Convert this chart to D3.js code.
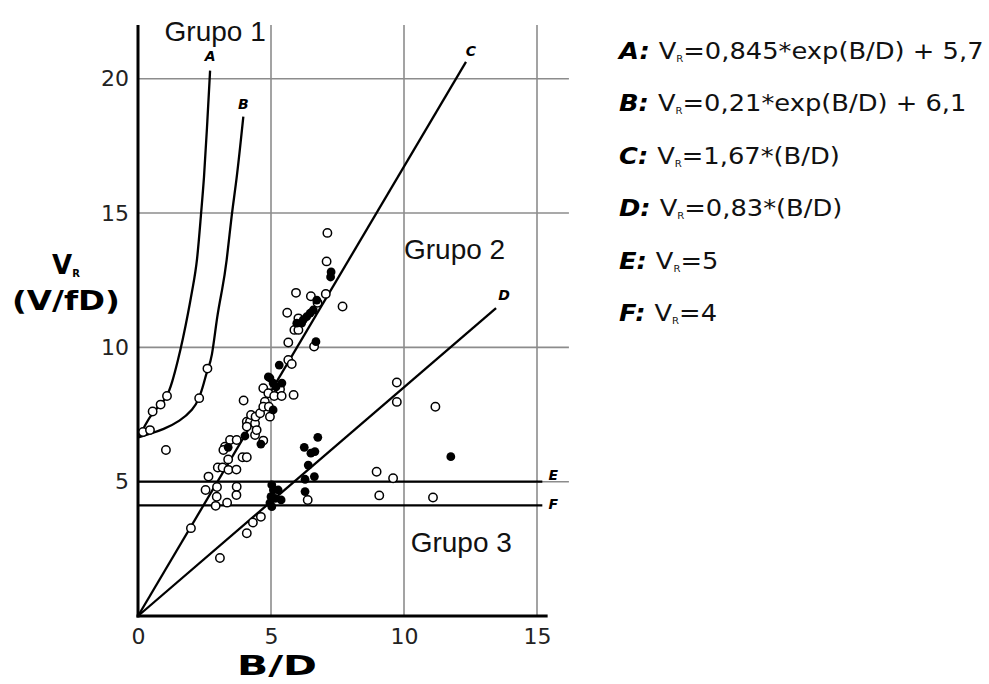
<!DOCTYPE html>
<html><head><meta charset="utf-8">
<script src="https://cdn.jsdelivr.net/npm/d3@7"></script>
<style>body{margin:0;background:#fff}svg{display:block}</style>
</head><body><svg id="c" width="989" height="684"></svg>
<script>
// ---------- data ----------
const xTicks = [0, 5, 10, 15];
const yTicks = [5, 10, 15, 20];
const curveNames = ["A", "B", "C", "D", "E", "F"];
const formulas = ["=0,845*exp(B/D) + 5,7", "=0,21*exp(B/D) + 6,1", "=1,67*(B/D)", "=0,83*(B/D)", "=5", "=4"];
const groupLabels = ["Grupo 1", "Grupo 2", "Grupo 3"];
const groupPos = [[1.0, 21.4], [10.0, 13.3], [10.25, 2.4]];

const curveA = [[0.07,6.70],[0.26,7.10],[0.53,7.55],[0.83,7.85],[1.09,8.15],[1.28,8.67],[1.50,9.50],[1.69,10.32],[1.88,11.25],[2.07,12.30],[2.22,13.12],[2.37,14.99],[2.48,16.22],[2.59,18.09],[2.71,20.30]];
const curveB = [[0,6.65],[0.45,6.78],[0.94,6.94],[1.58,7.25],[2.07,7.69],[2.29,8.06],[2.48,8.67],[2.61,9.19],[2.77,9.50],[2.98,11.24],[3.16,12.11],[3.33,13.11],[3.52,14.98],[3.71,16.22],[3.96,18.59]];
const lineC = [[0,0],[12.33,20.63]];
const lineD = [[0,0],[13.46,11.46]];
const lineE = [[0,5],[15.2,5]];
const lineF = [[0,4.12],[15.2,4.12]];

const openPts = [[0.19,6.85],[0.45,6.92],[0.55,7.61],[0.85,7.87],[1.09,8.19],[1.05,6.18],[2.30,8.11],[2.61,9.21],[3.97,8.02],[5.85,8.23],
[1.99,3.27],[3.08,2.16],[4.09,3.08],[4.32,3.48],[4.62,3.69],[2.65,5.19],[2.54,4.69],[2.97,4.80],[2.96,4.44],[2.92,4.10],
[3.35,4.22],[3.71,4.81],[3.70,4.50],[3.00,5.53],[3.18,5.53],[3.40,5.44],[3.70,5.45],[3.39,5.83],[3.93,5.91],[4.09,5.91],
[3.27,6.30],[3.21,6.18],[3.46,6.55],[3.71,6.55],[4.40,6.74],[4.71,6.53],[4.09,7.23],[4.21,7.23],[4.40,7.17],[4.46,6.92],
[4.09,7.05],[4.25,7.48],[4.42,7.42],[4.59,7.55],[4.96,7.42],[4.77,7.98],[4.71,7.79],[4.92,7.79],[4.71,8.48],[4.90,8.29],
[5.12,8.19],[5.34,8.44],[5.40,8.19],[5.65,9.53],[5.78,9.38],[5.65,10.18],[6.62,10.03],[5.88,10.65],[6.03,10.65],[5.61,11.29],
[6.03,11.08],[5.94,12.03],[6.50,11.90],[7.06,11.99],[7.69,11.52],[6.75,11.66],[7.12,14.26],[7.09,13.20],[6.38,4.32],
[9.73,8.69],[9.73,7.97],[11.18,7.79],[8.97,5.37],[9.59,5.13],[9.07,4.49],[11.09,4.41]];

const filledPts = [[5.31,9.34],[4.90,8.90],[4.96,8.86],[5.08,8.67],[5.41,8.67],[5.19,8.53],[5.08,7.67],[4.02,6.70],[3.39,6.28],[4.62,6.40],
[7.26,12.81],[7.24,12.62],[6.72,11.76],[6.59,11.39],[6.47,11.27],[6.34,11.14],[6.21,11.02],[6.15,10.90],[5.97,10.90],[6.69,10.21],
[5.03,4.88],[5.09,4.69],[5.27,4.69],[5.00,4.44],[5.15,4.38],[5.38,4.32],[5.03,4.07],[4.96,4.21],
[6.76,6.65],[6.25,6.28],[6.65,6.12],[6.50,6.06],[6.40,5.62],[6.28,5.09],[6.63,5.19],[6.28,4.63],[11.76,5.93]];

// ---------- chart ----------
const svg = d3.select("#c");
const x = d3.scaleLinear().domain([0, 15]).range([138, 537]);
const y = d3.scaleLinear().domain([0, 22]).range([616, 25]);
const xMaxGrid = 16.2, xMaxAxis = 15.4;
const sans = "'DejaVu Sans', Verdana, sans-serif";

// grid
const g = svg.append("g");
g.selectAll(".vg").data([5, 10, 15]).join("line")
  .attr("x1", d => x(d)).attr("x2", d => x(d)).attr("y1", y(0)).attr("y2", y(22))
  .attr("stroke", "#8c8c8c").attr("stroke-width", 1.6);
g.selectAll(".hg").data(yTicks).join("line")
  .attr("x1", x(0)).attr("x2", x(xMaxGrid)).attr("y1", d => y(d)).attr("y2", d => y(d))
  .attr("stroke", "#8c8c8c").attr("stroke-width", 1.6);

// axes
const xAxis = d3.axisBottom(x).tickValues(xTicks).tickSize(0).tickPadding(12);
const yAxis = d3.axisLeft(y).tickValues(yTicks).tickSize(0).tickPadding(9);
const gx = svg.append("g").attr("transform", `translate(0,${y(0)})`).call(xAxis);
const gy = svg.append("g").attr("transform", `translate(${x(0)},0)`).call(yAxis);
[gx, gy].forEach(a => {
  a.select(".domain").remove();
  a.selectAll("text").attr("font-family", sans).attr("font-size", 22).attr("fill", "#222");
});
svg.append("line").attr("x1", x(0)).attr("x2", x(0)).attr("y1", y(22)).attr("y2", y(0) + 1.5)
  .attr("stroke", "#000").attr("stroke-width", 3);
svg.append("line").attr("x1", x(0) - 1.5).attr("x2", x(xMaxAxis)).attr("y1", y(0)).attr("y2", y(0))
  .attr("stroke", "#000").attr("stroke-width", 3);

// curves
const line = d3.line().x(d => x(d[0])).y(d => y(d[1]));
const curveLine = d3.line().x(d => x(d[0])).y(d => y(d[1])).curve(d3.curveBasis);
const curves = [curveA, curveB, lineC, lineD, lineE, lineF];
svg.selectAll(".crv").data(curves).join("path")
  .attr("d", (d, i) => i < 2 ? curveLine(d) : line(d))
  .attr("fill", "none").attr("stroke", "#000").attr("stroke-width", 2.3);

// curve letters near line ends
const letterOffsets = [[0, -14], [0, -12], [5, -10], [8, -12], [11, -6], [11, 0]];
svg.selectAll(".lt").data(curves).join("text")
  .attr("x", (d, i) => x(d[d.length - 1][0]) + letterOffsets[i][0])
  .attr("y", (d, i) => y(d[d.length - 1][1]) + letterOffsets[i][1])
  .attr("text-anchor", "middle").attr("dominant-baseline", "middle")
  .attr("font-family", sans).attr("font-weight", "bold").attr("font-style", "italic").attr("font-size", 14)
  .text((d, i) => curveNames[i]);

// points
svg.selectAll(".op").data(openPts).join("circle")
  .attr("cx", d => x(d[0])).attr("cy", d => y(d[1])).attr("r", 4.2)
  .attr("fill", "#fff").attr("stroke", "#000").attr("stroke-width", 1.5);
svg.selectAll(".fp").data(filledPts).join("circle")
  .attr("cx", d => x(d[0])).attr("cy", d => y(d[1])).attr("r", 4.4)
  .attr("fill", "#000");

// group labels
svg.selectAll(".grp").data(groupLabels).join("text")
  .attr("x", (d, i) => x(groupPos[i][0])).attr("y", (d, i) => y(groupPos[i][1]))
  .attr("font-family", "'Liberation Sans', Arial, sans-serif").attr("font-size", 28).attr("fill", "#111")
  .text(d => d);

// axis titles
svg.append("text").attr("x", 237).attr("y", 675)
  .attr("font-family", sans).attr("font-weight", "bold").attr("font-size", 27)
  .attr("textLength", 80).attr("lengthAdjust", "spacingAndGlyphs").text("B/D");
const yt = svg.append("text").attr("x", 66).attr("y", 274).attr("text-anchor", "middle")
  .attr("font-family", sans).attr("font-weight", "bold").attr("font-size", 26);
yt.append("tspan").text("V");
yt.append("tspan").attr("font-size", 10).attr("dy", 3).text("R");
svg.append("text").attr("x", 12).attr("y", 310)
  .attr("font-family", sans).attr("font-weight", "bold").attr("font-size", 27)
  .attr("textLength", 108).attr("lengthAdjust", "spacingAndGlyphs").text("(V/fD)");

// legend
const lg = svg.append("g");
curveNames.forEach((n, i) => {
  const row = lg.append("g").attr("transform", `translate(619,${59 + i * 52.4}) scale(1.12,1)`);
  const t = row.append("text").attr("font-family", sans).attr("font-size", 23).attr("fill", "#111");
  t.append("tspan").attr("font-weight", "bold").attr("font-style", "italic").attr("fill", "#000").text(n + ":");
  t.append("tspan").attr("dx", 8).text("V");
  t.append("tspan").attr("font-size", 9).attr("dy", 3).text("R");
  t.append("tspan").attr("dy", -3).text(formulas[i]);
});
</script></body></html>
